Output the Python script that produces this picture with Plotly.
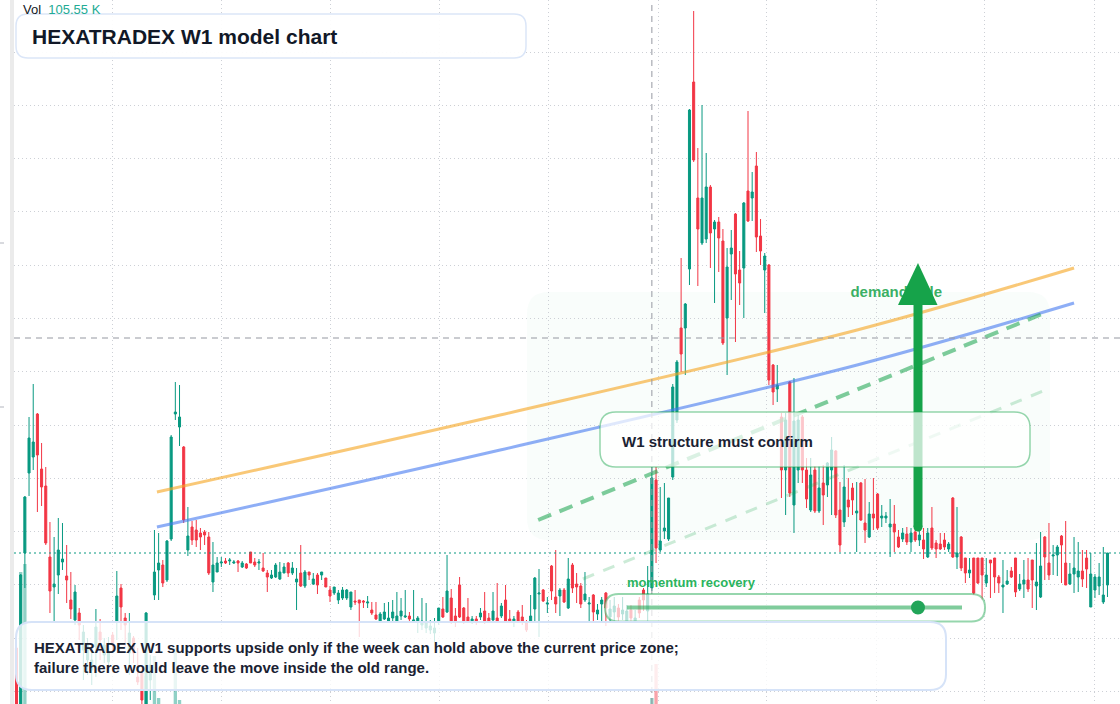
import pandas as pd
import plotly.graph_objects as go

# ---------------- data (weekly candles, arbitrary price units) ----------------
WEEK_START = "2018-01-22"

OPEN = [
    352, 288, 447, 527, 543, 586, 531, 514, 443, 413,
    425, 438, 424, 400, 380, 387, 350, 340, 330, 353,
    368, 345, 338, 365, 378, 412, 382, 347, 362, 323,
    327, 292, 320, 405, 430, 435, 420, 461, 586, 573,
    553, 450, 473, 470, 467, 468, 463, 418, 428, 437,
    439, 439, 437, 439, 433, 436, 448, 438, 437, 432,
    427, 422, 423, 421, 427, 437, 427, 418, 427, 414,
    428, 416, 425, 425, 422, 410, 407, 400, 402, 402,
    393, 399, 400, 399, 397, 390, 385, 379, 381, 379,
    382, 379, 384, 383, 384, 379, 378, 375, 372, 370,
    367, 378, 391, 388, 402, 384, 415, 392, 383, 378,
    381, 383, 389, 382, 380, 382, 384, 400, 381, 378,
    388, 383, 377, 379, 391, 406, 410, 396, 434, 403,
    404, 410, 392, 435, 416, 414, 400, 396, 405, 386,
    396, 407, 383, 388, 392, 386, 378, 390, 379, 400,
    410, 389, 412, 520, 450, 469, 461, 523, 580, 672,
    672, 731, 918, 802, 757, 761, 813, 771, 778, 759,
    682, 746, 786, 730, 732, 809, 802, 834, 764, 730,
    735, 635, 611, 583, 530, 618, 495, 530, 583, 530,
    490, 530, 489, 517, 515, 530, 549, 490, 478, 500,
    512, 487, 517, 477, 463, 486, 506, 482, 482, 473,
    476, 463, 461, 466, 458, 468, 460, 460, 443, 472,
    457, 456, 460, 451, 502, 443, 463, 442, 427, 442,
    442, 442, 417, 440, 442, 423, 413, 416, 429, 442,
    411, 416, 420, 440, 414, 403, 463, 437, 444, 445,
    464, 437, 416, 426, 423, 429, 442, 393, 410, 414,
    398, 415,
]
HIGH = [
    360, 426, 504, 583, 616, 587, 557, 533, 478, 463,
    482, 477, 455, 428, 415, 392, 375, 362, 348, 391,
    381, 362, 363, 368, 429, 416, 387, 387, 364, 352,
    330, 388, 345, 470, 467, 440, 460, 565, 618, 615,
    554, 493, 479, 480, 472, 470, 468, 458, 443, 443,
    442, 442, 440, 440, 439, 437, 448, 442, 441, 447,
    430, 430, 437, 438, 437, 438, 438, 432, 455, 430,
    428, 427, 427, 428, 422, 414, 413, 410, 413, 411,
    408, 410, 400, 400, 404, 398, 398, 388, 397, 398,
    400, 408, 402, 410, 388, 410, 384, 402, 397, 380,
    382, 392, 403, 445, 411, 392, 423, 393, 402, 384,
    384, 392, 408, 387, 408, 417, 397, 415, 390, 384,
    390, 395, 380, 405, 423, 431, 411, 403, 435, 450,
    412, 412, 442, 437, 427, 417, 428, 403, 406, 396,
    403, 408, 400, 403, 396, 403, 395, 395, 390, 403,
    412, 434, 533, 533, 513, 517, 502, 616, 640, 742,
    697, 891, 989, 852, 895, 847, 815, 780, 783, 771,
    752, 770, 787, 749, 798, 889, 828, 848, 781, 747,
    736, 636, 635, 587, 587, 619, 622, 585, 585, 542,
    542, 534, 534, 535, 538, 563, 550, 518, 535, 522,
    517, 518, 518, 521, 498, 522, 507, 495, 488, 501,
    495, 470, 472, 473, 472, 472, 472, 472, 472, 493,
    460, 467, 467, 458, 503, 493, 464, 442, 442, 442,
    442, 442, 442, 440, 442, 425, 440, 430, 433, 442,
    426, 440, 442, 440, 457, 468, 464, 477, 455, 455,
    465, 479, 437, 463, 458, 450, 450, 447, 426, 437,
    453, 447,
]
LOW = [
    285, 284, 412, 504, 530, 488, 494, 455, 387, 377,
    406, 430, 397, 381, 375, 360, 320, 325, 315, 323,
    340, 337, 330, 348, 360, 370, 353, 325, 337, 315,
    294, 288, 300, 400, 400, 413, 418, 459, 580, 554,
    477, 444, 455, 453, 450, 455, 425, 408, 428, 433,
    436, 435, 436, 428, 432, 431, 437, 433, 430, 428,
    408, 421, 422, 420, 427, 423, 425, 390, 413, 412,
    420, 415, 406, 420, 413, 398, 405, 396, 400, 400,
    390, 395, 363, 392, 392, 385, 380, 378, 380, 378,
    378, 377, 380, 382, 377, 378, 367, 370, 367, 366,
    358, 375, 382, 387, 376, 373, 382, 376, 378, 376,
    375, 380, 376, 378, 377, 378, 382, 378, 377, 373,
    377, 375, 368, 378, 378, 363, 398, 387, 400, 387,
    384, 397, 391, 407, 397, 392, 398, 378, 378, 380,
    378, 374, 378, 378, 378, 380, 377, 378, 377, 382,
    389, 378, 409, 437, 448, 461, 459, 520, 577, 628,
    625, 715, 838, 714, 755, 757, 732, 697, 728, 655,
    625, 700, 658, 695, 682, 778, 779, 748, 735, 687,
    615, 595, 598, 502, 485, 503, 467, 517, 517, 492,
    488, 487, 487, 475, 503, 485, 482, 448, 473, 483,
    485, 448, 479, 457, 462, 470, 470, 473, 477, 443,
    448, 452, 458, 455, 448, 458, 454, 441, 442, 450,
    442, 450, 450, 448, 442, 431, 429, 417, 422, 405,
    416, 400, 413, 402, 407, 407, 387, 415, 422, 403,
    409, 402, 408, 392, 390, 402, 420, 420, 425, 424,
    417, 415, 415, 407, 408, 413, 412, 393, 402, 405,
    396, 403,
]
CLOSE = [
    288, 425, 503, 562, 558, 545, 513, 457, 409, 416,
    450, 441, 420, 391, 408, 375, 368, 355, 340, 373,
    360, 355, 348, 355, 404, 393, 375, 367, 347, 318,
    300, 387, 335, 428, 437, 417, 459, 563, 588, 583,
    480, 464, 460, 460, 463, 465, 427, 435, 437, 438,
    437, 440, 438, 437, 437, 432, 437, 435, 438, 429,
    423, 425, 435, 428, 433, 427, 432, 421, 414, 428,
    425, 421, 415, 428, 413, 404, 413, 407, 410, 410,
    408, 398, 397, 398, 398, 387, 381, 386, 388, 382,
    388, 384, 389, 384, 381, 380, 382, 379, 378, 374,
    372, 392, 383, 409, 378, 378, 383, 378, 379, 381,
    378, 387, 379, 379, 389, 379, 394, 379, 379, 381,
    379, 379, 370, 384, 422, 407, 399, 397, 409, 396,
    410, 398, 421, 412, 413, 396, 406, 397, 388, 390,
    400, 392, 391, 394, 383, 390, 389, 382, 382, 387,
    400, 406, 522, 452, 459, 472, 502, 613, 638, 646,
    696, 890, 840, 771, 802, 813, 767, 778, 762, 657,
    733, 752, 726, 717, 797, 779, 808, 763, 749, 744,
    620, 608, 615, 530, 580, 507, 579, 580, 530, 501,
    525, 489, 512, 505, 537, 550, 485, 455, 513, 493,
    500, 489, 480, 470, 486, 482, 472, 484, 484, 476,
    468, 453, 467, 458, 467, 460, 465, 451, 467, 452,
    451, 451, 453, 456, 443, 447, 432, 427, 430, 407,
    417, 425, 425, 437, 423, 417, 415, 419, 423, 408,
    416, 420, 411, 420, 418, 434, 443, 425, 445, 453,
    455, 415, 426, 432, 429, 421, 431, 426, 423, 423,
    405, 447,
]
VOLUME_K = [
    210, 940, 980, 260, 240, 230, 180, 190, 200, 170,
    150, 130, 120, 140, 110, 120, 90, 80, 85, 110,
    95, 80, 75, 70, 140, 120, 95, 85, 80, 90,
    130, 420, 250, 520, 310, 180, 260, 270, 560, 300,
    240, 160, 120, 110, 95, 85, 120, 110, 70, 60,
    55, 50, 45, 50, 55, 60, 70, 55, 50, 65,
    80, 60, 70, 65, 55, 60, 50, 95, 110, 75,
    55, 50, 65, 50, 60, 75, 55, 60, 55, 50,
    65, 55, 85, 50, 45, 60, 70, 55, 60, 65,
    60, 75, 55, 70, 45, 65, 50, 60, 55, 45,
    55, 70, 65, 140, 110, 60, 120, 70, 65, 45,
    50, 55, 80, 45, 75, 90, 60, 100, 50, 45,
    60, 65, 55, 80, 150, 170, 90, 70, 130, 140,
    85, 75, 160, 120, 95, 100, 110, 80, 105, 70,
    85, 110, 75, 80, 70, 90, 75, 65, 55, 90,
    95, 160, 310, 480, 200, 150, 190, 230, 240, 250,
    200, 265, 270, 240, 230, 210, 190, 170, 160, 200,
    180, 150, 190, 140, 170, 200, 150, 190, 140, 130,
    220, 180, 120, 160, 150, 190, 170, 120, 130, 140,
    125, 130, 110, 115, 120, 130, 140, 150, 120, 100,
    95, 110, 105, 115, 95, 100, 110, 85, 70, 100,
    95, 85, 75, 80, 85, 70, 75, 90, 95, 100,
    80, 75, 70, 65, 130, 110, 105, 95, 80, 110,
    95, 100, 85, 90, 95, 80, 105, 70, 65, 110,
    75, 90, 85, 100, 110, 120, 115, 125, 85, 80,
    100, 130, 90, 105, 95, 85, 90, 115, 80, 85,
    110, 105.55,
]

GRID_DATES = ["2018-07-01", "2019-01-01", "2019-07-01", "2020-01-01", "2020-07-01",
              "2021-01-01", "2021-07-01", "2022-01-01", "2022-07-01", "2023-01-01"]
LAST_PRICE = 447
CROSS_PRICE = 662
CROSS_WEEK = 152

# trend lines (week index, price)
ORANGE_WEEK = [33.6, 115.7, 201.1, 253.0]
ORANGE_PRICE = [508, 585, 670, 732]
BLUE_WEEK = [33.6, 115.7, 201.1, 253.0]
BLUE_PRICE = [473, 550, 635, 697]
TREND_WEEK = [124.8, 246.5]
TREND_PRICE = [480, 688]
TREND2_WEEK = [135.5, 246.8]
TREND2_PRICE = [421, 611]
DEMAND_WEEK = 199.5
DEMAND_PRICE = 707

TITLE = "HEXATRADEX W1 model chart"
NOTE = ("HEXATRADEX W1 supports upside only if the week can hold above the current price zone;"
        "<br>failure there would leave the move inside the old range.")

# ---------------- helpers ----------------
W, H, LM = 1120, 704, 14
PX_PER_DAY = 4.18 / 7.0
start = pd.Timestamp(WEEK_START)
dates = pd.date_range(start, periods=len(OPEN), freq="7D")


def wk(i):
    return start + pd.Timedelta(days=7 * i)


def PX(px):
    return (px - LM) / (W - LM)


def PY(py):
    return 1 - py / H


def rrect(x0, y0, x1, y1, r):
    def p(x, y):
        return f"{PX(x):.5f},{PY(y):.5f}"
    return (f"M {p(x0 + r, y0)} L {p(x1 - r, y0)} Q {p(x1, y0)} {p(x1, y0 + r)} "
            f"L {p(x1, y1 - r)} Q {p(x1, y1)} {p(x1 - r, y1)} L {p(x0 + r, y1)} "
            f"Q {p(x0, y1)} {p(x0, y1 - r)} L {p(x0, y0 + r)} Q {p(x0, y0)} {p(x0 + r, y0)} Z")


UP = "#089981"
DOWN = "#f23645"
FONT = "Liberation Sans, Arial, sans-serif"

vol_colors = ["rgba(8,153,129,0.45)" if c >= o else "rgba(242,54,69,0.45)"
              for o, c in zip(OPEN, CLOSE)]

fig = go.Figure()
fig.add_trace(go.Bar(x=dates, y=VOLUME_K, marker=dict(color=vol_colors, line=dict(width=0)),
                     yaxis="y2", hoverinfo="skip"))
fig.add_trace(go.Candlestick(
    x=dates, open=OPEN, high=HIGH, low=LOW, close=CLOSE,
    increasing=dict(line=dict(color=UP, width=1), fillcolor=UP),
    decreasing=dict(line=dict(color=DOWN, width=1), fillcolor=DOWN),
    whiskerwidth=0, hoverinfo="skip"))

fig.add_trace(go.Scatter(x=[wk(i) for i in ORANGE_WEEK], y=ORANGE_PRICE, mode="lines",
                         line=dict(color="rgba(245,166,35,0.62)", width=3, shape="spline"),
                         hoverinfo="skip"))
fig.add_trace(go.Scatter(x=[wk(i) for i in BLUE_WEEK], y=BLUE_PRICE, mode="lines",
                         line=dict(color="rgba(66,120,240,0.6)", width=3, shape="spline"),
                         hoverinfo="skip"))
fig.add_trace(go.Scatter(x=[wk(i) for i in TREND_WEEK], y=TREND_PRICE, mode="lines",
                         line=dict(color="rgba(22,163,74,0.55)", width=4, dash="14px,9px"),
                         hoverinfo="skip"))
fig.add_trace(go.Scatter(x=[wk(i) for i in TREND2_WEEK], y=TREND2_PRICE, mode="lines",
                         line=dict(color="rgba(22,163,74,0.22)", width=3, dash="12px,10px"),
                         hoverinfo="skip"))
fig.add_trace(go.Scatter(x=[wk(DEMAND_WEEK)], y=[DEMAND_PRICE], mode="text",
                         text=["demand side"], textposition="middle right",
                         textfont=dict(family=FONT, size=15, color="rgba(34,165,80,0.9)", weight="bold"),
                         hoverinfo="skip"))

shapes = []
# demand zone
shapes.append(dict(type="path", xref="paper", yref="paper", path=rrect(527, 292, 1050, 540, 22),
                   fillcolor="rgba(34,197,94,0.028)", line=dict(width=0), layer="below"))
# left strip + stray tick marks
shapes.append(dict(type="rect", xref="paper", yref="paper", x0=PX(10), x1=PX(14), y0=0, y1=1,
                   fillcolor="#ebebeb", line=dict(width=0), layer="above"))
for ty in (243, 407):
    shapes.append(dict(type="line", xref="paper", yref="paper", x0=PX(0), x1=PX(4), y0=PY(ty), y1=PY(ty),
                       line=dict(color="#b2b5be", width=1), layer="above"))
# last price line
shapes.append(dict(type="line", xref="paper", yref="y", x0=0, x1=1, y0=LAST_PRICE, y1=LAST_PRICE,
                   line=dict(color=UP, width=1, dash="2px,3px"), layer="above"))
# crosshair
shapes.append(dict(type="line", xref="x", yref="paper", x0=wk(CROSS_WEEK), x1=wk(CROSS_WEEK), y0=0, y1=1,
                   line=dict(color="#9598a1", width=1, dash="6px,5px"), layer="above"))
shapes.append(dict(type="line", xref="paper", yref="y", x0=0, x1=1, y0=CROSS_PRICE, y1=CROSS_PRICE,
                   line=dict(color="#9598a1", width=1, dash="6px,5px"), layer="above"))
# arrow
shapes.append(dict(type="line", xref="paper", yref="paper", x0=PX(918), x1=PX(918), y0=PY(527), y1=PY(303),
                   line=dict(color="#16a34a", width=9), layer="above"))
shapes.append(dict(type="circle", xref="paper", yref="paper", x0=PX(913.5), x1=PX(922.5),
                   y0=PY(531.5), y1=PY(522.5), fillcolor="#16a34a", line=dict(width=0), layer="above"))
shapes.append(dict(type="path", xref="paper", yref="paper",
                   path=f"M {PX(898)},{PY(305)} L {PX(937.5)},{PY(305)} L {PX(918)},{PY(263)} Z",
                   fillcolor="#16a34a", line=dict(width=0), layer="above"))
# W1 box
shapes.append(dict(type="path", xref="paper", yref="paper", path=rrect(600, 412, 1030, 467, 16),
                   fillcolor="rgba(255,255,255,0.72)", line=dict(color="rgba(22,163,74,0.45)", width=1.5),
                   layer="above"))
# momentum box
shapes.append(dict(type="path", xref="paper", yref="paper", path=rrect(605, 594, 985, 621.5, 13.5),
                   fillcolor="rgba(255,255,255,0.7)", line=dict(color="rgba(22,163,74,0.45)", width=2),
                   layer="above"))
shapes.append(dict(type="line", xref="paper", yref="paper", x0=PX(627), x1=PX(962), y0=PY(607.5), y1=PY(607.5),
                   line=dict(color="rgba(22,163,74,0.55)", width=4), layer="above"))
shapes.append(dict(type="circle", xref="paper", yref="paper", x0=PX(911), x1=PX(925), y0=PY(614.5),
                   y1=PY(600.5), fillcolor="#22a559", line=dict(width=0), layer="above"))
# bottom note box
shapes.append(dict(type="path", xref="paper", yref="paper", path=rrect(16, 622, 946, 690, 16),
                   fillcolor="rgba(255,255,255,0.8)", line=dict(color="#d6e3f8", width=2), layer="above"))
# title box
shapes.append(dict(type="path", xref="paper", yref="paper", path=rrect(16, 14, 526, 58, 12),
                   fillcolor="rgba(255,255,255,0.93)", line=dict(color="#dbe6f8", width=1.5), layer="above"))

annotations = [
    dict(xref="paper", yref="paper", x=PX(21), y=PY(9), xanchor="left", yanchor="middle",
         text="Vol  <span style='color:#22ab94'>105.55 K</span>", showarrow=False,
         font=dict(family=FONT, size=13, color="#131722")),
    dict(xref="paper", yref="paper", x=PX(29.5), y=PY(36), xanchor="left", yanchor="middle",
         text=f"<b>{TITLE}</b>", showarrow=False, font=dict(family=FONT, size=21, color="#111827")),
    dict(xref="paper", yref="paper", x=PX(619.5), y=PY(441), xanchor="left", yanchor="middle",
         text="<b>W1 structure must confirm</b>", showarrow=False,
         font=dict(family=FONT, size=15, color="#1a2232")),
    dict(xref="paper", yref="paper", x=PX(625), y=PY(582), xanchor="left", yanchor="middle",
         text="<b>momentum recovery</b>", showarrow=False,
         font=dict(family=FONT, size=13, color="#2bb45e")),
    dict(xref="paper", yref="paper", x=PX(31.5), y=PY(657), xanchor="left", yanchor="middle",
         text=f"<b>{NOTE}</b>", showarrow=False, align="left",
         font=dict(family=FONT, size=15, color="#1a2232")),
]

r0 = start - pd.Timedelta(days=(16.5 - LM) / PX_PER_DAY)
r1 = r0 + pd.Timedelta(days=(W - LM) / PX_PER_DAY)

fig.update_layout(
    width=W, height=H, margin=dict(l=LM, r=0, t=0, b=0),
    paper_bgcolor="white", plot_bgcolor="white", showlegend=False, hovermode=False,
    bargap=0.2,
    xaxis=dict(type="date", range=[r0.isoformat(), r1.isoformat()], tickvals=GRID_DATES,
               showticklabels=False, ticks="", showgrid=True, gridcolor="#cdd0d6", griddash="1px,3px",
               gridwidth=1, zeroline=False, showline=False, rangeslider=dict(visible=False)),
    yaxis=dict(range=[296, 1000], tick0=308.5, dtick=53.29, showticklabels=False, ticks="",
               showgrid=True, gridcolor="#cdd0d6", griddash="1px,3px", gridwidth=1,
               zeroline=False, showline=False),
    yaxis2=dict(overlaying="y", range=[280, 3800], visible=False, showgrid=False),
    shapes=shapes, annotations=annotations,
)

fig.write_html("out.html")
